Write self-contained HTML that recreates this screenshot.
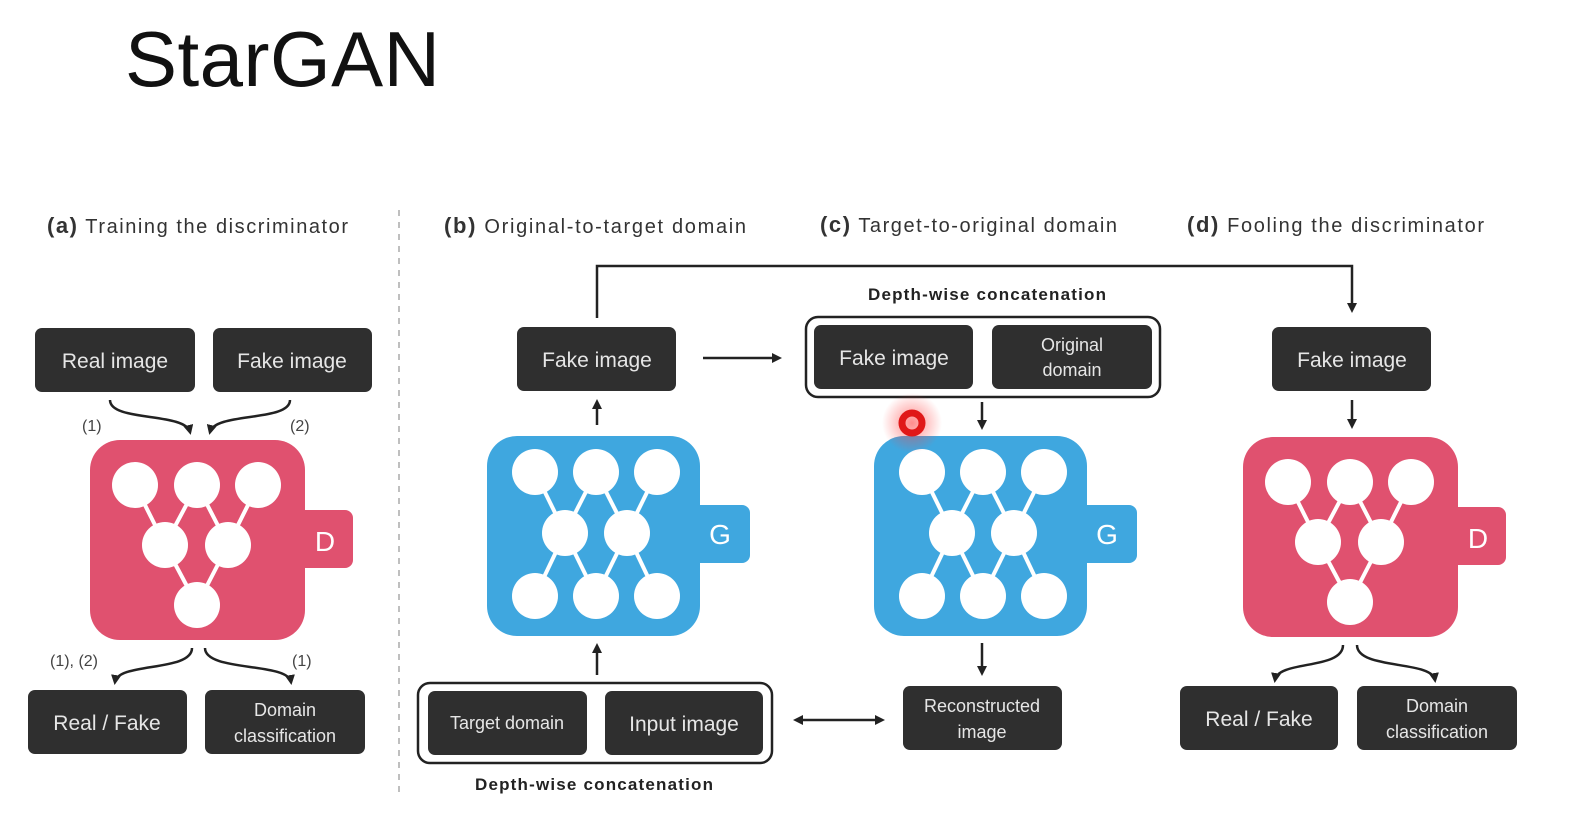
<!DOCTYPE html>
<html><head><meta charset="utf-8"><style>
html,body{margin:0;padding:0;background:#fff;}
svg{display:block;font-family:"Liberation Sans",sans-serif;}
.bx{fill:#2f2f2f;}
.bt{fill:#e6e6e6;font-size:21px;text-anchor:middle;}
.bt2{fill:#e6e6e6;font-size:18px;text-anchor:middle;}
.ti{fill:#333;font-size:20px;}
.tb{font-weight:bold;font-size:22px;}
.ar{stroke:#222;stroke-width:2.5;fill:none;}
.lab{fill:#444;font-size:16px;}
</style></head><body>
<svg width="1570" height="830" viewBox="0 0 1570 830" xmlns="http://www.w3.org/2000/svg">
<defs>
<marker id="ah" markerWidth="10" markerHeight="10" refX="7" refY="5" orient="auto" markerUnits="userSpaceOnUse">
<path d="M0,0 L10,5 L0,10 z" fill="#222"/></marker>
<marker id="ahs" markerWidth="10" markerHeight="10" refX="3" refY="5" orient="auto-start-reverse" markerUnits="userSpaceOnUse">
<path d="M0,0 L10,5 L0,10 z" fill="#222"/></marker>
<g id="D">
<rect x="205" y="70" width="58" height="58" rx="8" fill="#e0516f"/>
<rect x="0" y="0" width="215" height="200" rx="30" fill="#e0516f"/>
<g stroke="#fff" stroke-width="4">
<line x1="45" y1="45" x2="75" y2="105"/><line x1="107" y1="45" x2="75" y2="105"/>
<line x1="107" y1="45" x2="138" y2="105"/><line x1="168" y1="45" x2="138" y2="105"/>
<line x1="75" y1="105" x2="107" y2="165"/><line x1="138" y1="105" x2="107" y2="165"/></g>
<g fill="#fff"><circle cx="45" cy="45" r="23"/><circle cx="107" cy="45" r="23"/><circle cx="168" cy="45" r="23"/>
<circle cx="75" cy="105" r="23"/><circle cx="138" cy="105" r="23"/><circle cx="107" cy="165" r="23"/></g>
<text x="235" y="111" fill="#fff" font-size="28" text-anchor="middle">D</text>
</g>
<g id="G">
<rect x="205" y="69" width="58" height="58" rx="8" fill="#3fa7df"/>
<rect x="0" y="0" width="213" height="200" rx="30" fill="#3fa7df"/>
<g stroke="#fff" stroke-width="4">
<line x1="48" y1="36" x2="78" y2="97"/><line x1="109" y1="36" x2="78" y2="97"/>
<line x1="109" y1="36" x2="140" y2="97"/><line x1="170" y1="36" x2="140" y2="97"/>
<line x1="78" y1="97" x2="48" y2="160"/><line x1="78" y1="97" x2="109" y2="160"/>
<line x1="140" y1="97" x2="109" y2="160"/><line x1="140" y1="97" x2="170" y2="160"/></g>
<g fill="#fff"><circle cx="48" cy="36" r="23"/><circle cx="109" cy="36" r="23"/><circle cx="170" cy="36" r="23"/>
<circle cx="78" cy="97" r="23"/><circle cx="140" cy="97" r="23"/>
<circle cx="48" cy="160" r="23"/><circle cx="109" cy="160" r="23"/><circle cx="170" cy="160" r="23"/></g>
<text x="233" y="108" fill="#fff" font-size="28" text-anchor="middle">G</text>
</g>
<radialGradient id="glow"><stop offset="0" stop-color="#ff4040" stop-opacity="0.6"/><stop offset="1" stop-color="#ff4040" stop-opacity="0"/></radialGradient>
</defs>

<text x="125" y="86" font-size="78" fill="#111" textLength="315">StarGAN</text>

<!-- titles -->
<text x="47" y="233" class="ti" textLength="301"><tspan class="tb">(a)</tspan> Training the discriminator</text>
<text x="444" y="233" class="ti" textLength="302"><tspan class="tb">(b)</tspan> Original-to-target domain</text>
<text x="820" y="232" class="ti" textLength="297"><tspan class="tb">(c)</tspan> Target-to-original domain</text>
<text x="1187" y="232" class="ti" textLength="297"><tspan class="tb">(d)</tspan> Fooling the discriminator</text>

<line x1="399" y1="210" x2="399" y2="792" stroke="#aaa" stroke-width="1.5" stroke-dasharray="6,6"/>

<!-- (a) -->
<rect class="bx" x="35" y="328" width="160" height="64" rx="7"/><text class="bt" x="115" y="368">Real image</text>
<rect class="bx" x="213" y="328" width="159" height="64" rx="7"/><text class="bt" x="292" y="368">Fake image</text>
<path class="ar" d="M110,400 C110,422 185,412 190,432" marker-end="url(#ah)"/>
<path class="ar" d="M290,400 C290,422 215,412 210,432" marker-end="url(#ah)"/>
<text class="lab" x="82" y="431">(1)</text><text class="lab" x="290" y="431">(2)</text>
<use href="#D" x="90" y="440"/>
<path class="ar" d="M192,648 C192,672 118,662 115,682" marker-end="url(#ah)"/>
<path class="ar" d="M205,648 C205,672 288,662 291,682" marker-end="url(#ah)"/>
<text class="lab" x="50" y="666">(1), (2)</text><text class="lab" x="292" y="666">(1)</text>
<rect class="bx" x="28" y="690" width="159" height="64" rx="7"/><text class="bt" x="107" y="730">Real / Fake</text>
<rect class="bx" x="205" y="690" width="160" height="64" rx="7"/><text class="bt2" x="285" y="716">Domain</text><text class="bt2" x="285" y="742">classification</text>

<!-- (b) -->
<path class="ar" d="M597,318 V266 H1352 V310" marker-end="url(#ah)"/>
<rect class="bx" x="517" y="327" width="159" height="64" rx="7"/><text class="bt" x="597" y="367">Fake image</text>
<line class="ar" x1="597" y1="425" x2="597" y2="402" marker-end="url(#ah)"/>
<use href="#G" x="487" y="436"/>
<line class="ar" x1="597" y1="675" x2="597" y2="646" marker-end="url(#ah)"/>
<rect x="418" y="683" width="354" height="80" rx="12" fill="none" stroke="#222" stroke-width="2.5"/>
<rect class="bx" x="428" y="691" width="159" height="64" rx="7"/><text class="bt2" x="507" y="729">Target domain</text>
<rect class="bx" x="605" y="691" width="158" height="64" rx="7"/><text class="bt" x="684" y="731">Input image</text>
<text x="475" y="790" font-size="17" font-weight="bold" fill="#222" textLength="238">Depth-wise concatenation</text>
<line class="ar" x1="703" y1="358" x2="779" y2="358" marker-end="url(#ah)"/>

<!-- (c) -->
<text x="868" y="300" font-size="17" font-weight="bold" fill="#222" textLength="238">Depth-wise concatenation</text>
<rect x="806" y="317" width="354" height="80" rx="12" fill="none" stroke="#222" stroke-width="2.5"/>
<rect class="bx" x="814" y="325" width="159" height="64" rx="7"/><text class="bt" x="894" y="365">Fake image</text>
<rect class="bx" x="992" y="325" width="160" height="64" rx="7"/><text class="bt2" x="1072" y="351">Original</text><text class="bt2" x="1072" y="376">domain</text>
<line class="ar" x1="982" y1="402" x2="982" y2="427" marker-end="url(#ah)"/>
<use href="#G" x="874" y="436"/>
<line class="ar" x1="982" y1="643" x2="982" y2="673" marker-end="url(#ah)"/>
<rect class="bx" x="903" y="686" width="159" height="64" rx="7"/><text class="bt2" x="982" y="712">Reconstructed</text><text class="bt2" x="982" y="738">image</text>
<line class="ar" x1="800" y1="720" x2="882" y2="720" marker-start="url(#ahs)" marker-end="url(#ah)"/>
<circle cx="912" cy="423" r="30" fill="url(#glow)"/>
<circle cx="912" cy="423" r="10" fill="none" stroke="#e01818" stroke-width="7"/>

<!-- (d) -->
<rect class="bx" x="1272" y="327" width="159" height="64" rx="7"/><text class="bt" x="1352" y="367">Fake image</text>
<line class="ar" x1="1352" y1="400" x2="1352" y2="426" marker-end="url(#ah)"/>
<use href="#D" x="1243" y="437"/>
<path class="ar" d="M1343,645 C1343,670 1278,660 1275,680" marker-end="url(#ah)"/>
<path class="ar" d="M1357,645 C1357,670 1432,660 1435,680" marker-end="url(#ah)"/>
<rect class="bx" x="1180" y="686" width="158" height="64" rx="7"/><text class="bt" x="1259" y="726">Real / Fake</text>
<rect class="bx" x="1357" y="686" width="160" height="64" rx="7"/><text class="bt2" x="1437" y="712">Domain</text><text class="bt2" x="1437" y="738">classification</text>
</svg>
</body></html>
